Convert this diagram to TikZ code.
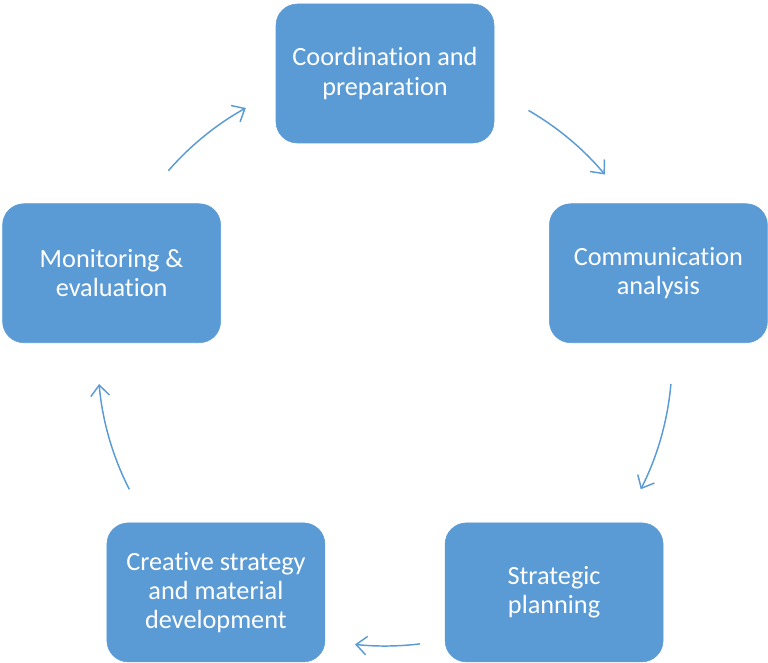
\documentclass[tikz,border=0pt]{standalone}
\usepackage{fontspec}
\setmainfont{Carlito}[RawFeature={-liga;-clig;-dlig;-calt}]
\usetikzlibrary{calc,arrows.meta}
\definecolor{box-blue}{RGB}{91,155,213}
\tikzset{
	stage/.style={draw=box-blue,fill=box-blue,rounded corners=16pt,
		minimum width=163.5pt,minimum height=104.25pt,inner sep=0pt,
		align=center,text=white,font=\fontsize{19.7}{21.8}\selectfont},
	cycle arrow/.style={draw=box-blue,line width=1.1pt,
		-{Straight Barb[length=8pt,width=14pt,line width=1.1pt]}}
}

\begin{document}
\begin{tikzpicture}[x=0.75pt,y=0.75pt]
	\useasboundingbox (0,0) rectangle (768,662);
	%centre of the cycle
	\coordinate (O) at (385,303);
	
	%boxes
	\node[stage] (coord) at ($(O)+(90:287)+(0,-1.5)$) {Coordination and\\preparation};
	\node[stage] (comm) at ($(O)+(17.7:287)+(0,-1.5)$) {Communication\\analysis};
	\node[stage] (plan) at ($(O)+(-53.9:287)+(0,-1.5)$) {Strategic\\planning};
	\node[stage] (creat) at ($(O)+(-126.1:287)+(0,-1.5)$) {Creative strategy\\and material\\development};
	\node[stage] (monit) at ($(O)+(162.3:287)+(0,-1.5)$) {Monitoring \&\\evaluation};
	
	%arrows round the circle
	\foreach \a/\b [count=\i] in {60/40,-5/-27,-83/-96,207/185,139/119}{
		\coordinate (s\i) at ($(O)+(\a:287)$);
		\draw[cycle arrow] (s\i) arc[start angle=\a,end angle=\b,radius=215.25pt];
	}
\end{tikzpicture}
\end{document}
